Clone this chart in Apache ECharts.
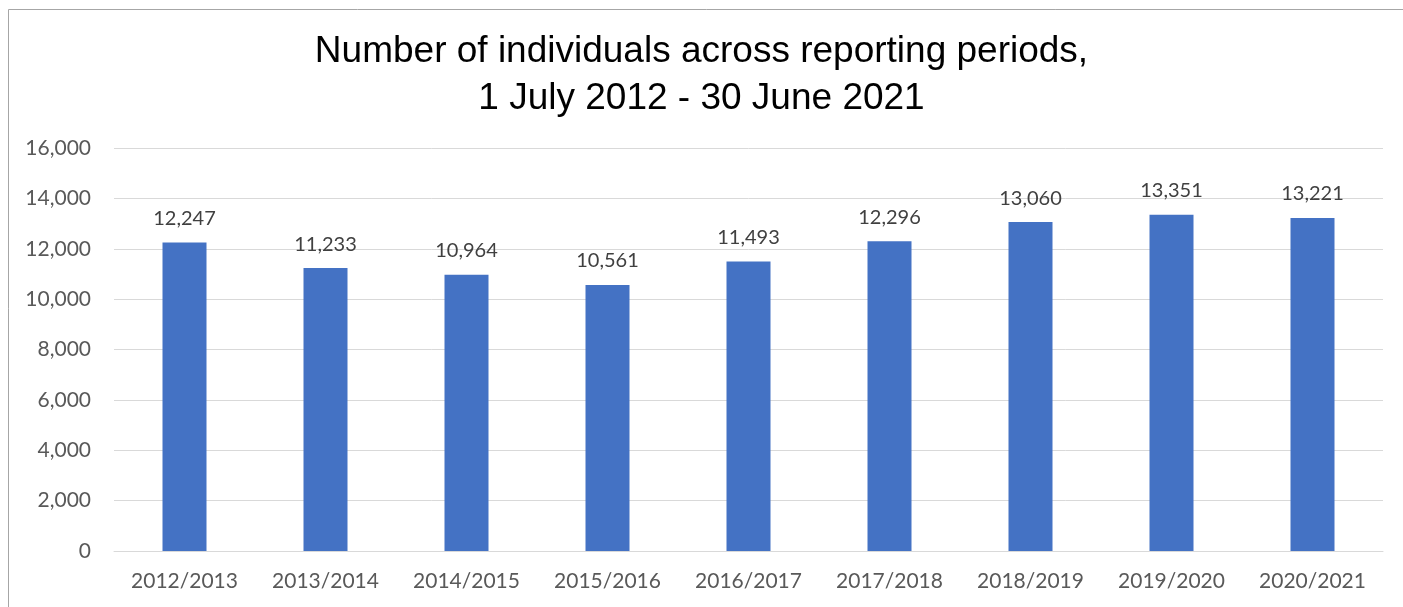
<!DOCTYPE html>
<html>
<head>
<meta charset="utf-8">
<title>Number of individuals across reporting periods</title>
<script src="https://cdn.jsdelivr.net/npm/echarts@6/dist/echarts.min.js"></script>
<style>
html, body { margin: 0; padding: 0; background: #fff; }
#chart { width: 1403px; height: 607px; }
</style>
</head>
<body>
<div id="chart"></div>
<script>
// reporting periods and counts
const periods = ['2012/2013', '2013/2014', '2014/2015', '2015/2016', '2016/2017', '2017/2018', '2018/2019', '2019/2020', '2020/2021'];
const individuals = [12247, 11233, 10964, 10561, 11493, 12296, 13060, 13351, 13221];
const titleLines = ['Number of individuals across reporting periods,', '1 July 2012 - 30 June 2021'];

const chart = echarts.init(document.getElementById('chart'), null, { renderer: 'canvas' });
chart.setOption({
  backgroundColor: '#fff',
  animation: false,
  title: {
    text: titleLines.join('\n'),
    left: 'center',
    top: 23,
    textStyle: { color: '#000', fontFamily: 'Liberation Sans, Arial, sans-serif', fontSize: 37, fontWeight: 'normal', lineHeight: 47 },
  },
  graphic: [{
    type: 'rect',
    shape: { x: 8.5, y: 9.5, width: 1500, height: 700 },
    style: { fill: 'none', stroke: '#a6a6a6', lineWidth: 1 },
    silent: true,
  }],
  grid: { left: 114, right: 20, top: 148, bottom: 56 },
  xAxis: {
    type: 'category',
    data: periods,
    axisLine: { show: true, lineStyle: { color: '#d9d9d9', width: 1 } },
    axisTick: { show: false },
    axisLabel: { color: '#595959', fontFamily: 'Lato, Open Sans, sans-serif', fontSize: 21, margin: 20 },
  },
  yAxis: {
    type: 'value',
    min: 0,
    max: 16000,
    interval: 2000,
    axisLine: { show: false },
    axisTick: { show: false },
    axisLabel: {
      color: '#595959', fontFamily: 'Lato, Open Sans, sans-serif', fontSize: 21, margin: 23,
      formatter: function (v) { return v.toLocaleString('en-US'); },
    },
    splitLine: { lineStyle: { color: '#d9d9d9', width: 1 } },
  },
  series: [{
    type: 'bar',
    data: individuals,
    barWidth: 44,
    itemStyle: { color: '#4472c4' },
    label: {
      show: true,
      position: 'top',
      distance: 14,
      color: '#404040',
      fontFamily: 'Lato, Open Sans, sans-serif',
      fontSize: 20,
      formatter: function (p) { return p.value.toLocaleString('en-US'); },
    },
  }],
});
</script>
</body>
</html>
